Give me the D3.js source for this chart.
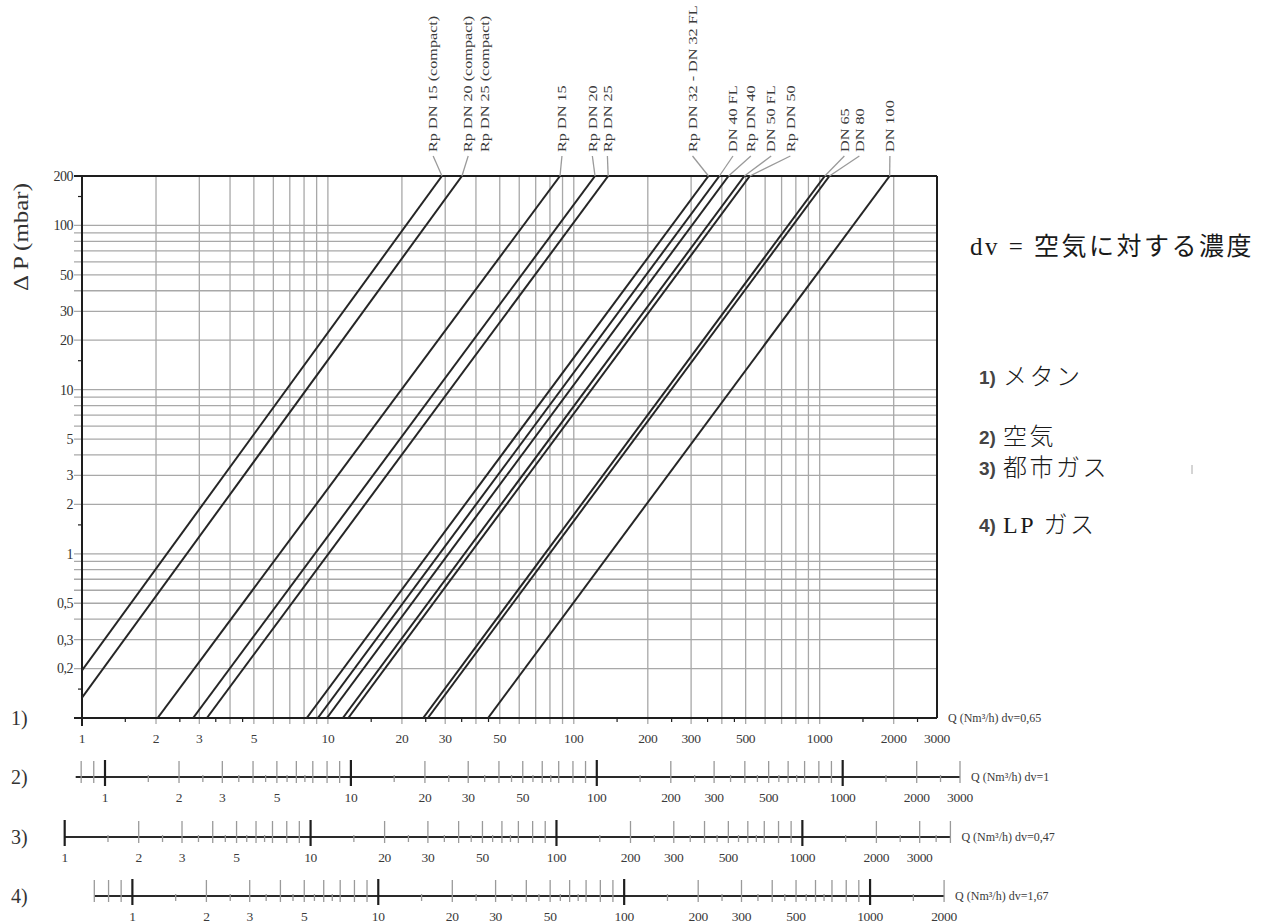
<!DOCTYPE html>
<meta charset="utf-8">

<style type="text/css">
body { margin: 0; background: #fff; }
svg text { fill: #333; }
.serif { font-family: "Liberation Serif", "DejaVu Serif", serif; }
.grid line { stroke: #a8a8a8; stroke-width: 1.3; }
.curve { fill: none; stroke: #262626; stroke-width: 2; }
.frame { stroke: #1e1e1e; stroke-width: 2; }
.leader { fill: none; stroke: #9a9a9a; stroke-width: 1.3; }
.minor { stroke: #9a9a9a; stroke-width: 1.3; }
.major { stroke: #1e1e1e; stroke-width: 2.2; }
</style>
<body>
</body>

<script src="https://d3js.org/d3.v7.min.js"></script>
<script>
// 1. Data
// each pressure drop line: lower end (Q, dP) and the Q where it reaches 200 mbar
var lineNames = ["Rp DN 15 (compact)", "Rp DN 20/25 (compact)", "Rp DN 15", "Rp DN 20", "Rp DN 25",
                 "Rp DN 32 - DN 32 FL", "DN 40 FL", "Rp DN 40", "DN 50 FL", "Rp DN 50",
                 "DN 65", "DN 80", "DN 100"];
var qLow  = [1, 1, 2.03, 2.83, 3.22, 8.2, 9.1, 9.9, 11.5, 12.1, 24.4, 25.5, 44.8];
var pLow  = [0.195, 0.133, 0.1, 0.1, 0.1, 0.1, 0.1, 0.1, 0.1, 0.1, 0.1, 0.1, 0.1];
var qHigh = [29.1, 35.1, 87.9, 122, 138, 353, 391, 426, 494, 520, 1049, 1096, 1926];
var pHigh = 200;

// labels at the top, with the line each one points at (null = no leader)
var labelNames = ["Rp DN 15 (compact)", "Rp DN 20 (compact)", "Rp DN 25 (compact)", "Rp DN 15", "Rp DN 20", "Rp DN 25",
                  "Rp DN 32 - DN 32 FL", "DN 40 FL", "Rp DN 40", "DN 50 FL", "Rp DN 50", "DN 65", "DN 80", "DN 100"];
var labelQ    = [26.8, 37.2, 43.6, 89.5, 119, 137, 304, 444, 525, 635, 760, 1260, 1450, 1930];
var labelLine = [0, 1, null, 2, 3, 4, 5, 6, 7, 8, 9, 10, 11, 12];

// y axis tick labels
var pTickLabels = [200, 100, 50, 30, 20, 10, 5, 3, 2, 1, 0.5, 0.3, 0.2];

// the four flow scales (1 = main x axis of the plot)
var gasNums = ["1)", "2)", "3)", "4)"];
var gasDv = [0.65, 1, 0.47, 1.67];
var gasDvLabel = ["0,65", "1", "0,47", "1,67"];
var gasDomain = [[1, 3000], [0.76, 3000], [1, 4000], [0.7, 2000]];
var qTickLabels = [[1, 2, 3, 5, 10, 20, 30, 50, 100, 200, 300, 500, 1000, 2000, 3000],
                   [1, 2, 3, 5, 10, 20, 30, 50, 100, 200, 300, 500, 1000, 2000, 3000],
                   [1, 2, 3, 5, 10, 20, 30, 50, 100, 200, 300, 500, 1000, 2000, 3000],
                   [1, 2, 3, 5, 10, 20, 30, 50, 100, 200, 300, 500, 1000, 2000]];

// legend on the right
var legendTitle = "dv = 空気に対する濃度";
var legendNums = ["1)", "2)", "3)", "4)"];
var legendGas = ["メタン", "空気", "都市ガス", "LP ガス"];

// 2. Layout
var plot = {left: 82, right: 937, top: 176, bottom: 718};
var axisY = [718, 777, 837, 896];
var legendY = [377, 437, 468, 525];

function comma(v) { return String(v).replace(".", ","); }

// 3. Scales (log-log)
var x = d3.scaleLog().domain([1, 3000]).range([plot.left, plot.right]);
var y = d3.scaleLog().domain([0.1, 200]).range([plot.bottom, plot.top]);

var svg = d3.select("body").append("svg")
    .attr("width", 1277)
    .attr("height", 923)
    .attr("class", "serif");

// 4. Grid lines
var grid = svg.append("g").attr("class", "grid");
var xGrid = x.ticks().filter(function(d) { return d > 1 && d < 3000; });
var yGrid = y.ticks().filter(function(d) { return d > 0.1 && d < 200; });

grid.selectAll(".vg").data(xGrid).enter().append("line")
    .attr("x1", function(d) { return x(d); })
    .attr("x2", function(d) { return x(d); })
    .attr("y1", plot.top)
    .attr("y2", plot.bottom + 6);

grid.selectAll(".hg").data(yGrid).enter().append("line")
    .attr("y1", function(d) { return y(d); })
    .attr("y2", function(d) { return y(d); })
    .attr("x1", plot.left - 8)
    .attr("x2", plot.right);

// small ticks on the frame at 1.5, 2.5 ...
var halfQ = [];
[1, 10, 100, 1000].forEach(function(k) {
    [1.5, 2.5, 3.5, 4.5].forEach(function(m) { if (m * k < 3000) halfQ.push(m * k); });
});
svg.selectAll(".hq").data(halfQ).enter().append("line")
    .attr("class", "frame")
    .style("stroke-width", 1.2)
    .attr("x1", function(d) { return x(d); })
    .attr("x2", function(d) { return x(d); })
    .attr("y1", plot.bottom)
    .attr("y2", plot.bottom + 4);

var halfP = [0.15, 1.5, 15, 150];
svg.selectAll(".hp").data(halfP).enter().append("line")
    .attr("class", "frame")
    .style("stroke-width", 1.2)
    .attr("y1", function(d) { return y(d); })
    .attr("y2", function(d) { return y(d); })
    .attr("x1", plot.left - 4)
    .attr("x2", plot.left);

// 5. Frame
svg.append("line").attr("class", "frame")
    .attr("x1", plot.left - 8).attr("x2", plot.right)
    .attr("y1", plot.bottom).attr("y2", plot.bottom);
svg.append("line").attr("class", "frame")
    .attr("x1", plot.left).attr("x2", plot.right)
    .attr("y1", plot.top).attr("y2", plot.top);
svg.append("line").attr("class", "frame")
    .attr("x1", plot.left).attr("x2", plot.left)
    .attr("y1", plot.top).attr("y2", plot.bottom + 8);
svg.append("line").attr("class", "frame")
    .attr("x1", plot.right).attr("x2", plot.right)
    .attr("y1", plot.top).attr("y2", plot.bottom);
svg.append("line").attr("class", "frame")
    .attr("x1", plot.left - 8).attr("x2", plot.left)
    .attr("y1", y(200)).attr("y2", y(200));

// 6. Pressure drop lines
svg.append("clipPath").attr("id", "clip")
    .append("rect")
    .attr("x", plot.left).attr("y", plot.top)
    .attr("width", plot.right - plot.left).attr("height", plot.bottom - plot.top);

var line = d3.line()
    .x(function(d) { return x(d[0]); })
    .y(function(d) { return y(d[1]); });

svg.append("g").attr("clip-path", "url(#clip)")
    .selectAll(".curve").data(lineNames).enter().append("path")
    .attr("class", "curve")
    .attr("d", function(d, i) { return line([[qLow[i], pLow[i]], [qHigh[i], pHigh]]); });

// 7. Top labels + leaders
var labelBase = 152;
svg.selectAll(".leader").data(labelLine.filter(function(d) { return d !== null; })).enter()
    .append("line")
    .attr("class", "leader")
    .attr("x1", function(d) { return x(labelQ[labelLine.indexOf(d)]); })
    .attr("y1", labelBase + 4)
    .attr("x2", function(d) { return x(qHigh[d]); })
    .attr("y2", plot.top);

svg.selectAll(".toplabel").data(labelNames).enter().append("text")
    .attr("class", "toplabel")
    .attr("transform", function(d, i) {
        return "translate(" + x(labelQ[i]) + "," + labelBase + ") rotate(-90) scale(1.35,1)";
    })
    .attr("dy", "0.35em")
    .style("font-size", "12px")
    .style("fill", "#3a3a3a")
    .text(function(d) { return d; });

// 8. Y axis labels and title
svg.selectAll(".ptick").data(pTickLabels).enter().append("text")
    .attr("x", plot.left - 9)
    .attr("y", function(d) { return y(d); })
    .attr("dy", "0.35em")
    .attr("text-anchor", "end")
    .style("font-size", "14px")
    .style("letter-spacing", "-0.5px")
    .text(function(d) { return comma(d); });

svg.append("text")
    .attr("transform", "translate(28,237) rotate(-90)")
    .attr("text-anchor", "middle")
    .attr("textLength", 108)
    .attr("lengthAdjust", "spacingAndGlyphs")
    .style("font-family", "'Liberation Serif', serif")
    .style("font-size", "20px")
    .text("Δ P (mbar)");

// 9. Flow scales (main one shares the plot's bottom edge)
gasDv.forEach(function(dv, g) {
    var k = Math.sqrt(dv / gasDv[0]);
    var dom = gasDomain[g];
    var sx = d3.scaleLog().domain(dom).range([x(dom[0] * k), x(dom[1] * k)]);
    var ay = axisY[g];
    var ax = svg.append("g");

    if (g > 0) {
        var all = sx.ticks().filter(function(d) { return d >= dom[0] - 1e-9 && d <= dom[1] + 1e-9; });
        var decades = all.filter(function(d) { return Math.abs(Math.log10(d) - Math.round(Math.log10(d))) < 1e-9; });
        var minors = all.filter(function(d) { return decades.indexOf(d) < 0; });
        var halves = [];
        [0.1, 1, 10, 100, 1000].forEach(function(p) {
            [1.5, 2.5, 3.5, 4.5, 5.5, 6.5].forEach(function(m) {
                if (m * p > dom[0] && m * p < dom[1]) halves.push(m * p);
            });
        });

        ax.append("line")
            .attr("x1", sx(dom[0])).attr("x2", sx(dom[1]))
            .attr("y1", ay).attr("y2", ay)
            .style("stroke", "#2a2a2a").style("stroke-width", 1.8);

        ax.selectAll(".mn").data(minors).enter().append("line")
            .attr("class", "minor")
            .attr("x1", function(d) { return sx(d); }).attr("x2", function(d) { return sx(d); })
            .attr("y1", ay - 16).attr("y2", ay + 6);

        ax.selectAll(".hf").data(halves).enter().append("line")
            .attr("class", "minor")
            .attr("x1", function(d) { return sx(d); }).attr("x2", function(d) { return sx(d); })
            .attr("y1", ay - 2).attr("y2", ay + 5);

        ax.selectAll(".mj").data(decades).enter().append("line")
            .attr("class", "major")
            .attr("x1", function(d) { return sx(d); }).attr("x2", function(d) { return sx(d); })
            .attr("y1", ay - 17).attr("y2", ay + 9);
    }

    ax.selectAll(".ql").data(qTickLabels[g]).enter().append("text")
        .attr("x", function(d) { return sx(d); })
        .attr("y", ay + 20)
        .attr("dy", "0.35em")
        .attr("text-anchor", "middle")
        .style("font-size", "13.5px")
        .style("letter-spacing", "-0.3px")
        .style("fill", "#3a3a3a")
        .text(function(d) { return d; });

    ax.append("text")
        .attr("x", sx(dom[1]) + 11)
        .attr("y", ay)
        .attr("dy", "0.35em")
        .style("font-size", "12px")
        .style("fill", "#3a3a3a")
        .text("Q (Nm³/h)  dv=" + gasDvLabel[g]);

    ax.append("text")
        .attr("x", 11)
        .attr("y", ay)
        .attr("dy", "0.35em")
        .style("font-size", "20px")
        .text(gasNums[g]);
});

// 10. Legend on the right
svg.append("text")
    .attr("x", 970)
    .attr("y", 246)
    .attr("dy", "0.35em")
    .style("font-family", "'Liberation Serif', 'Noto Sans CJK JP', serif")
    .style("font-size", "25px")
    .style("letter-spacing", "2.5px")
    .style("fill", "#1a1a1a")
    .text(legendTitle);

svg.selectAll(".lgn").data(legendNums).enter().append("text")
    .attr("x", 979)
    .attr("y", function(d, i) { return legendY[i]; })
    .attr("dy", "0.35em")
    .style("font-family", "'Liberation Sans Narrow', 'Liberation Sans', sans-serif")
    .style("font-weight", "bold")
    .style("font-size", "19px")
    .style("fill", "#444")
    .text(function(d) { return d; });

svg.selectAll(".lgt").data(legendGas).enter().append("text")
    .attr("x", 1003)
    .attr("y", function(d, i) { return legendY[i]; })
    .attr("dy", "0.35em")
    .style("font-family", "'Liberation Serif', 'Noto Sans CJK JP', serif")
    .style("font-weight", 300)
    .style("font-size", "24px")
    .style("letter-spacing", "2.5px")
    .style("fill", "#1a1a1a")
    .text(function(d) { return d; });

// stray mark next to 3)
svg.append("line")
    .attr("x1", 1192).attr("x2", 1192)
    .attr("y1", 465).attr("y2", 474)
    .style("stroke", "#aaa").style("stroke-width", 1);
</script>
